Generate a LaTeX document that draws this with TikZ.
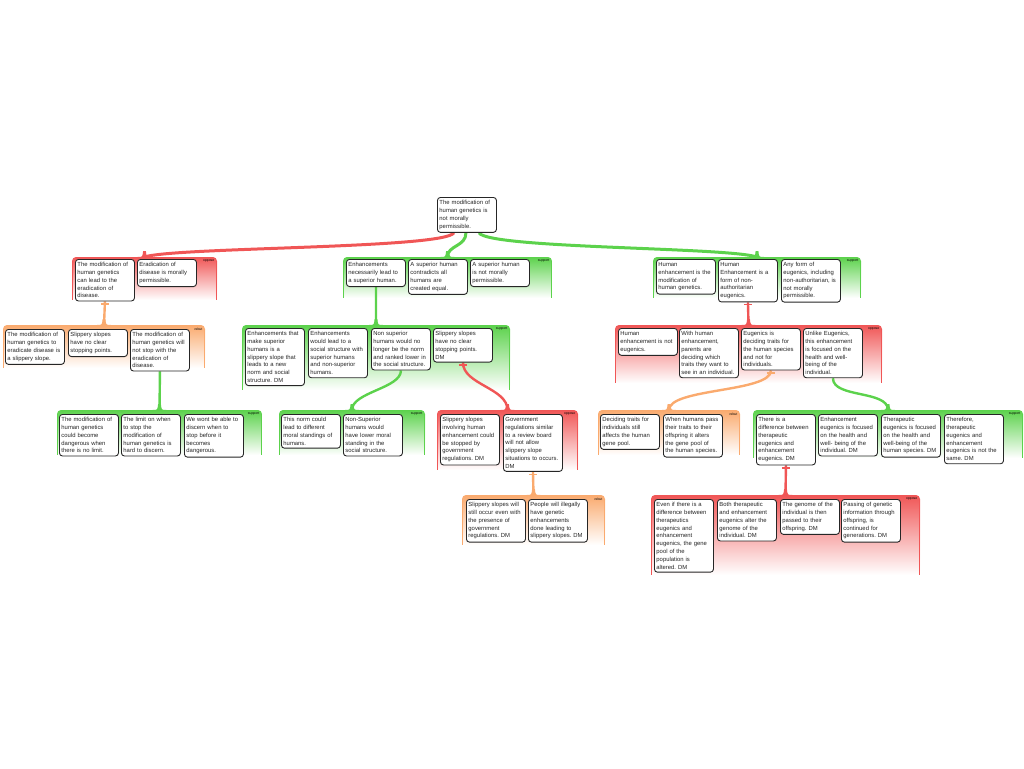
\documentclass[tikz,border=0pt]{standalone}
\usepackage{fontspec}
\setmainfont{Liberation Sans}
\usetikzlibrary{backgrounds}

\definecolor{opRed}{RGB}{240,86,86}
\definecolor{supGreen}{RGB}{92,210,76}
\definecolor{rebOrange}{RGB}{250,170,110}

% group background: name, x1, y1, x2, y2, colour, label
\newcommand{\grp}[7]{%
  \shade[top color=#6,middle color=#6!75,bottom color=white,rounded corners=4pt] (#2,#5) rectangle (#4,#3);
  \draw[#6,line width=1.2pt] ({#2+0.6},{#3+4}) -- ({#2+0.6},#5) ({#4-0.6},{#3+4}) -- ({#4-0.6},#5);
  \node[glbl] (#1l) at ({#4-2},{#3+2}) {#7};
  \coordinate (#1) at ({(#2+#4)/2},#3);
}
% tab on top of a group
\newcommand{\bump}[2]{%
  \fill[#2] ([xshift=-7pt]#1) .. controls ([xshift=-2pt]#1) .. ([shift={(-1.4pt,6pt)}]#1)
    -- ([shift={(1.4pt,6pt)}]#1) .. controls ([xshift=2pt]#1) .. ([xshift=7pt]#1) -- cycle;
}
% bar under an objecting box
\newcommand{\tbar}[2]{%
  \draw[#2,line width=1.2pt] ([shift={(-4pt,-2.5pt)}]#1.south) -- ([shift={(4pt,-2.5pt)}]#1.south);
}

\begin{document}
\frenchspacing
\begin{tikzpicture}[x=1pt,y=-1pt,
    arg/.style={draw=black!85,line width=0.9pt,rounded corners=3pt,fill=white,anchor=north west,
      text width=55pt,inner xsep=2pt,inner ysep=3pt,align=left,
      font=\fontsize{5.9}{7.8}\selectfont,text=black!85},
    glbl/.style={anchor=north east,inner sep=0.5pt,font=\fontsize{3.4}{3.4}\selectfont},
    lnk/.style={draw=#1,line width=2.4pt}]
  \useasboundingbox (0,0) rectangle (1024,768);
  %root
  \node[arg] (root) at (437,197) {The modification of\\ human genetics is\\ not morally\\ permissible.};
  %level 1
  \node[arg] (a1) at (75,259) {The modification of\\ human genetics\\ can lead to the\\ eradication of\\ disease.};
  \node[arg] (a2) at (137,259) {Eradication of\\ disease is morally\\ permissible.};
  \node[arg] (b1) at (346,259) {Enhancements\\ necessarily lead to\\ a superior human.};
  \node[arg] (b2) at (408,259) {A superior human\\ contradicts all\\ humans are\\ created equal.};
  \node[arg] (b3) at (470,259) {A superior human\\ is not morally\\ permissible.};
  \node[arg] (c1) at (656,259) {Human\\ enhancement is the\\ modification of\\ human genetics.};
  \node[arg] (c2) at (718,259) {Human\\ Enhancement is a\\ form of non-\\ authoritarian\\ eugenics.};
  \node[arg] (c3) at (781,259) {Any form of\\ eugenics, including\\ non-authoritarian, is\\ not morally\\ permissible.};
  %level 2
  \node[arg] (ar1) at (5,329) {The modification of\\ human genetics to\\ eradicate disease is\\ a slippery slope.};
  \node[arg] (ar2) at (68,329) {Slippery slopes\\ have no clear\\ stopping points.};
  \node[arg] (ar3) at (130,329) {The modification of\\ human genetics will\\ not stop with the\\ eradication of\\ disease.};
  \node[arg] (bs1) at (245,328) {Enhancements that\\ make superior\\ humans is a\\ slippery slope that\\ leads to a new\\ norm and social\\ structure. DM};
  \node[arg] (bs2) at (308,328) {Enhancements\\ would lead to a\\ social structure with\\ superior humans\\ and non-superior\\ humans.};
  \node[arg] (bs3) at (371,328) {Non superior\\ humans would no\\ longer be the norm\\ and ranked lower in\\ the social structure.};
  \node[arg] (bs4) at (433,328) {Slippery slopes\\ have no clear\\ stopping points.\\ DM};
  \node[arg] (co1) at (618,328) {Human\\ enhancement is not\\ eugenics.};
  \node[arg] (co2) at (679,328) {With human\\ enhancement,\\ parents are\\ deciding which\\ traits they want to\\ see in an individual.};
  \node[arg] (co3) at (741,328) {Eugenics is\\ deciding traits for\\ the human species\\ and not for\\ individuals.};
  \node[arg] (co4) at (803,328) {Unlike Eugenics,\\ this enhancement\\ is focused on the\\ health and well-\\ being of the\\ individual.};
  %level 3
  \node[arg] (ars1) at (59,414) {The modification of\\ human genetics\\ could become\\ dangerous when\\ there is no limit.};
  \node[arg] (ars2) at (121,414) {The limit on when\\ to stop the\\ modification of\\ human genetics is\\ hard to discern.};
  \node[arg] (ars3) at (184,414) {We wont be able to\\ discern when to\\ stop before it\\ becomes\\ dangerous.};
  \node[arg] (bss1) at (281,414) {This norm could\\ lead to different\\ moral standings of\\ humans.};
  \node[arg] (bss2) at (343,414) {Non-Superior\\ humans would\\ have lower moral\\ standing in the\\ social structure.};
  \node[arg] (bso1) at (440,414) {Slippery slopes\\ involving human\\ enhancement could\\ be stopped by\\ government\\ regulations. DM};
  \node[arg] (bso2) at (503,414) {Government\\ regulations similar\\ to a review board\\ will not allow\\ slippery slope\\ situations to occurs.\\ DM};
  \node[arg] (cr1) at (600,414) {Deciding traits for\\ individuals still\\ affects the human\\ gene pool.};
  \node[arg] (cr2) at (663,414) {When humans pass\\ their traits to their\\ offspring it alters\\ the gene pool of\\ the human species.};
  \node[arg] (cs1) at (756,414) {There is a\\ difference between\\ therapeutic\\ eugenics and\\ enhancement\\ eugenics. DM};
  \node[arg] (cs2) at (818,414) {Enhancement\\ eugenics is focused\\ on the health and\\ well- being of the\\ individual. DM};
  \node[arg] (cs3) at (881,414) {Therapeutic\\ eugenics is focused\\ on the health and\\ well-being of the\\ human species. DM};
  \node[arg] (cs4) at (944,414) {Therefore,\\ therapeutic\\ eugenics and\\ enhancement\\ eugenics is not the\\ same. DM};
  %level 4
  \node[arg] (gr1) at (466,499) {Slippery slopes will\\ still occur even with\\ the presence of\\ government\\ regulations. DM};
  \node[arg] (gr2) at (528,499) {People will illegally\\ have genetic\\ enhancements\\ done leading to\\ slippery slopes. DM};
  \node[arg] (cso1) at (654,499) {Even if there is a\\ difference between\\ therapeutics\\ eugenics and\\ enhancement\\ eugenics, the gene\\ pool of the\\ population is\\ altered. DM};
  \node[arg] (cso2) at (717,499) {Both therapeutic\\ and enhancement\\ eugenics alter the\\ genome of the\\ individual. DM};
  \node[arg] (cso3) at (780,499) {The genome of the\\ individual is then\\ passed to their\\ offspring. DM};
  \node[arg] (cso4) at (841,499) {Passing of genetic\\ information through\\ offspring, is\\ continued for\\ generations. DM};

  \begin{scope}[on background layer]
    %groups
    \grp{gA}{72}{257}{217}{300}{opRed}{oppose}
    \grp{gB}{343}{257}{552}{298}{supGreen}{support}
    \grp{gC}{653}{257}{861}{298}{supGreen}{support}
    \grp{gAR}{3}{325}{205}{368}{rebOrange}{rebut}
    \grp{gBS}{242}{325}{510}{390}{supGreen}{support}
    \grp{gCO}{615}{325}{882}{383}{opRed}{oppose}
    \grp{gARS}{57}{410}{262}{455}{supGreen}{support}
    \grp{gBSS}{279}{410}{425}{455}{supGreen}{support}
    \grp{gBSO}{437}{410}{578}{470}{opRed}{oppose}
    \grp{gCR}{598}{410}{740}{455}{rebOrange}{rebut}
    \grp{gCS}{753}{410}{1023}{458}{supGreen}{support}
    \grp{gGR}{462}{495}{605}{545}{rebOrange}{rebut}
    \grp{gCSO}{651}{495}{920}{575}{opRed}{oppose}
    %links
    \draw[lnk=opRed,line width=3pt] ([xshift=-13pt]root.south) .. controls +(-10,16) and +(30,-10) .. (gA);
    \draw[lnk=supGreen,line width=3pt] ([xshift=-1pt]root.south) .. controls +(0,14) and +(0,-12) .. (gB);
    \draw[lnk=supGreen,line width=3pt] ([xshift=12pt]root.south) .. controls +(10,16) and +(-30,-10) .. (gC);
    \draw[lnk=rebOrange] (a1.south) -- (gAR);
    \draw[lnk=supGreen] (b1.south) -- (gBS);
    \draw[lnk=opRed] (c2.south) -- (gCO);
    \draw[lnk=supGreen] (ar3.south) -- (gARS);
    \draw[lnk=supGreen] (bs3.south) .. controls +(0,18) and +(0,-18) .. (gBSS);
    \draw[lnk=opRed] (bs4.south) .. controls +(0,22) and +(0,-22) .. (gBSO);
    \draw[lnk=rebOrange] (co3.south) .. controls +(0,22) and +(0,-22) .. (gCR);
    \draw[lnk=supGreen] (co4.south) .. controls +(0,20) and +(0,-20) .. (gCS);
    \draw[lnk=rebOrange] (bso2.south) -- (gGR);
    \draw[lnk=opRed] (cs1.south) -- (gCSO);
    \bump{gA}{opRed} \bump{gB}{supGreen} \bump{gC}{supGreen}
    \bump{gAR}{rebOrange} \bump{gBS}{supGreen} \bump{gCO}{opRed}
    \bump{gARS}{supGreen} \bump{gBSS}{supGreen} \bump{gBSO}{opRed}
    \bump{gCR}{rebOrange} \bump{gCS}{supGreen} \bump{gGR}{rebOrange} \bump{gCSO}{opRed}
  \end{scope}
  %objection bars
  \tbar{a1}{rebOrange} \tbar{c2}{opRed} \tbar{bs4}{opRed}
  \tbar{co3}{rebOrange} \tbar{bso2}{rebOrange} \tbar{cs1}{opRed}
\end{tikzpicture}
\end{document}
